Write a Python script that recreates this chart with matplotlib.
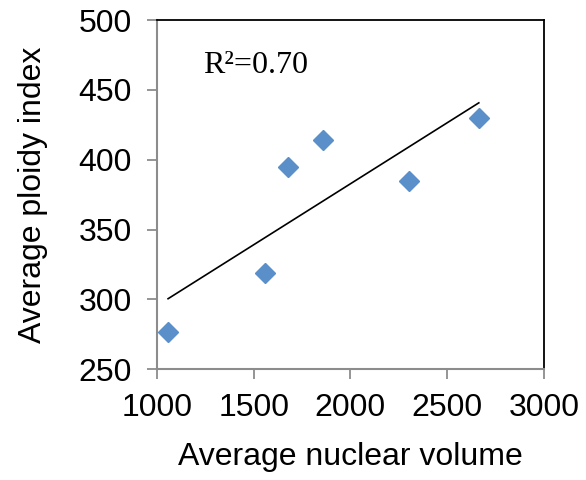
import numpy as np
import matplotlib
matplotlib.use('Agg')
import matplotlib.pyplot as plt

plt.rcParams['font.family'] = ['Liberation Sans', 'DejaVu Sans']

# data
nuclear_volume = [1057, 1558, 1677, 1858, 2302, 2664]
ploidy_index = [276.5, 319, 395, 414, 385, 430]
r2_label = 'R²=0.70'

x = np.array(nuclear_volume)
y = np.array(ploidy_index)
k, b = np.polyfit(x, y, 1)
xs = np.array([x.min(), x.max()])

fig = plt.figure(figsize=(5.86, 4.8), dpi=100)
ax = fig.add_axes([0.268, 0.231, 0.66, 0.727])

ax.plot(x, y, linestyle='none', marker='D', ms=10.5, color='#5B8FC9', zorder=3)
ax.plot(xs, k * xs + b, color='black', lw=1.2, zorder=2)

ax.set_xlim(1000, 3000)
ax.set_ylim(250, 500)
ax.set_xticks(np.arange(1000, 3001, 500))
ax.set_yticks(np.arange(250, 501, 50))

for s in ['left', 'bottom']:
    ax.spines[s].set_color('#8C8C8C')
    ax.spines[s].set_linewidth(1.5)
for s in ['top', 'right']:
    ax.spines[s].set_color('black')
    ax.spines[s].set_linewidth(1.3)

ax.tick_params(direction='out', length=7, width=1.3, color='#8C8C8C',
               labelsize=23)
ax.tick_params(axis='x', pad=10)
ax.tick_params(axis='y', pad=11)

ax.set_xlabel('Average nuclear volume', fontsize=23, labelpad=14)
ax.set_ylabel('Average ploidy index', fontsize=23, labelpad=22)

ax.text(0.12, 0.87, r2_label, transform=ax.transAxes, fontsize=23,
        family=['Liberation Serif', 'DejaVu Serif'], va='center', ha='left')

fig.savefig('out.png', dpi=100)
